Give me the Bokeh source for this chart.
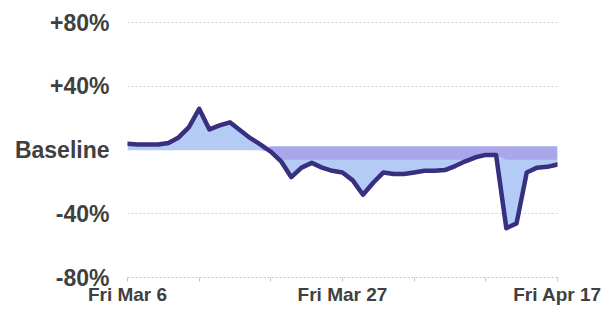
import numpy as np
from bokeh.plotting import figure
from bokeh.models import Range1d, FixedTicker
from bokeh.embed import file_html
from bokeh.resources import INLINE

# ---- data ----
days = list(range(43))  # daily points, Fri Mar 6 .. Fri Apr 17
values = [4, 3.5, 3.5, 3.5, 4.5, 8, 14.5, 26, 13, 15.5, 17.5, 12.5, 7.5, 3.5,
          -1, -7, -17, -11, -8, -11, -13, -14, -19, -28, -20.5, -14, -15,
          -15, -14, -13, -13, -12.5, -10, -7, -4.5, -3, -3, -49, -46, -14,
          -11, -10.5, -9]
x_tick_days = [0, 7, 14, 21, 28, 35, 42]
x_tick_labels = ["Fri Mar 6", "", "", "Fri Mar 27", "", "", "Fri Apr 17"]
y_ticks = [-80, -40, 0, 40, 80]
y_tick_labels = ["-80%", "-40%", "Baseline", "+40%", "+80%"]

vals = np.array(values, dtype=float)
d = np.array(days, dtype=float)
neg = vals < 0

p = figure(width=612, height=315, output_backend="svg", toolbar_location=None,
           x_range=Range1d(0, 42), y_range=Range1d(-80, 80.8),
           min_border_left=127, min_border_right=55,
           min_border_top=21, min_border_bottom=38)
p.outline_line_color = None
p.background_fill_color = "white"

# fill between baseline and series
p.varea(x=d, y1=np.zeros_like(vals), y2=vals, fill_color="#b4cbf6", fill_alpha=1.0)
# darker band hugging the baseline where the series is below it
p.varea(x=d, y1=np.where(neg, 2.5, 0.0), y2=np.where(neg, np.maximum(vals, -6), 0.0),
        fill_color="#aaa6ec", fill_alpha=1.0)
# series line
p.line(d, vals, line_color="#372f80", line_width=4.5, line_join="round", line_cap="round")

# axes
p.xaxis.ticker = FixedTicker(ticks=x_tick_days)
p.xaxis.major_label_overrides = {t: l for t, l in zip(x_tick_days, x_tick_labels)}
p.xaxis.axis_line_color = "#c4c4d4"
p.xaxis.axis_line_dash = "2 2"
p.xaxis.major_tick_line_color = "#c4c4d4"
p.xaxis.major_tick_out = 4
p.xaxis.major_tick_in = 0
p.xaxis.minor_tick_line_color = None
p.xaxis.major_label_standoff = 2
p.xaxis.major_label_text_font_size = "19px"

p.yaxis.ticker = FixedTicker(ticks=y_ticks)
p.yaxis.major_label_overrides = {t: l for t, l in zip(y_ticks, y_tick_labels)}
p.yaxis.axis_line_color = None
p.yaxis.major_tick_line_color = None
p.yaxis.major_tick_out = 0
p.yaxis.major_tick_in = 0
p.yaxis.minor_tick_line_color = None
p.yaxis.major_label_standoff = 18
p.yaxis.major_label_text_font_size = "23px"

for ax in (p.xaxis, p.yaxis):
    ax.major_label_text_font = "Liberation Sans"
    ax.major_label_text_font_style = "bold"
    ax.major_label_text_color = "#404040"

p.xgrid.grid_line_color = None
p.ygrid.ticker = FixedTicker(ticks=[-40, 40, 80])
p.ygrid.grid_line_color = "#cfcfe0"
p.ygrid.grid_line_dash = "2 2"
p.ygrid.grid_line_width = 1

open("out.html", "w").write(file_html(p, INLINE))
